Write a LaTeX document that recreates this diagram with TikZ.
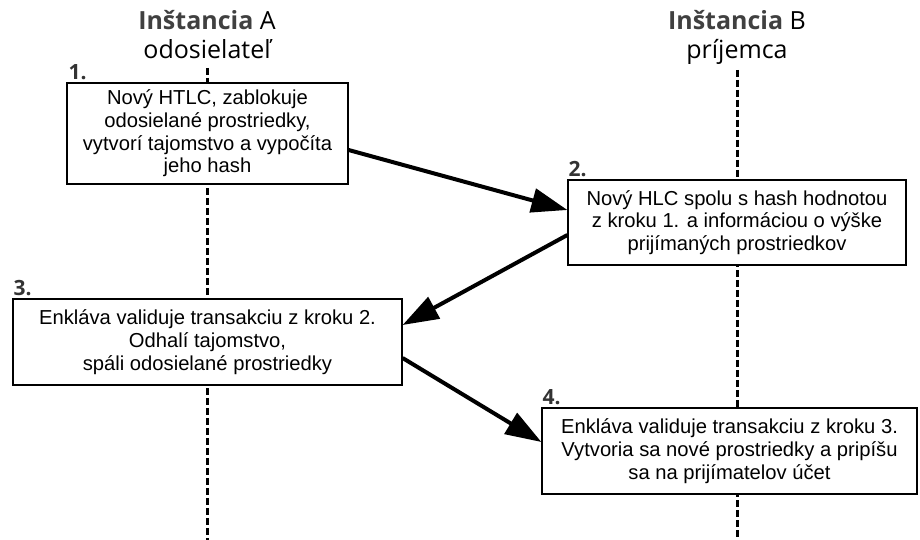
\documentclass[tikz,border=0pt]{standalone}
\usepackage{fontspec}
\setmainfont{Liberation Sans}
\newfontfamily\headfont{Open Sans}
\usetikzlibrary{arrows.meta}
\begin{document}
\begin{tikzpicture}[x=1pt,y=-1pt,
  lifeline/.style={line width=3pt,dash pattern=on 7pt off 3pt},
  stepbox/.style={draw,line width=1.2pt,fill=white,inner sep=0pt,align=center,
    font=\fontsize{20.2}{22.7}\selectfont},
  steplabel/.style={anchor=south west,inner sep=0pt,text=black!80,
    font=\headfont\bfseries\fontsize{21}{21}\selectfont},
  heading/.style={align=center,inner sep=0pt,
    font=\headfont\fontsize{25}{29}\selectfont},
  msg/.style={line width=4pt,-{Triangle[length=36pt,width=24pt]}}]
\useasboundingbox (0,0) rectangle (920,540);

% lifelines of the two instances
\coordinate (topA) at (207,68);
\coordinate (botA) at (207,540);
\coordinate (topB) at (737,70);
\coordinate (botB) at (737,540);
\draw[lifeline] (topA) -- (botA);
\draw[lifeline] (topB) -- (botB);

% headings
\node[heading] (headA) at (207,35) {{\bfseries\color{black!75}Inštancia} A\\odosielateľ};
\node[heading] (headB) at (737,37) {{\bfseries\color{black!75}Inštancia} B\\príjemca};

% steps
\node[stepbox,minimum width=281pt,minimum height=101pt] (box1) at (207.5,133.5)
  {Nový HTLC, zablokuje\\odosielané prostriedky,\\vytvorí tajomstvo a vypočíta\\jeho hash};
\node[stepbox,minimum width=338pt,minimum height=85pt] (box2) at (737,222.5)
  {Nový HLC spolu s hash hodnotou\\z kroku 1. a informáciou o výške\\prijímaných prostriedkov};
\node[stepbox,minimum width=389pt,minimum height=86pt] (box3) at (207.5,342)
  {Enkláva validuje transakciu z kroku 2.\\Odhalí tajomstvo,\\spáli odosielané prostriedky};
\node[stepbox,minimum width=375pt,minimum height=86pt] (box4) at (729.5,451)
  {Enkláva validuje transakciu z kroku 3.\\Vytvoria sa nové prostriedky a pripíšu\\sa na prijímatelov účet};

% step numbers
\node[steplabel] (n1) at ([xshift=2pt,yshift=2pt]box1.north west) {1.};
\node[steplabel] (n2) at ([xshift=1pt,yshift=2pt]box2.north west) {2.};
\node[steplabel] (n3) at ([xshift=1pt,yshift=2pt]box3.north west) {3.};
\node[steplabel] (n4) at ([xshift=1pt,yshift=2pt]box4.north west) {4.};

% messages
\draw[msg] ([yshift=-16.5pt]box1.east) -- ([yshift=12.5pt]box2.west);
\draw[msg] ([yshift=-12.5pt]box2.west) -- ([yshift=17pt]box3.east);
\draw[msg] ([yshift=-16pt]box3.east) -- ([yshift=9pt]box4.west);
\end{tikzpicture}
\end{document}
